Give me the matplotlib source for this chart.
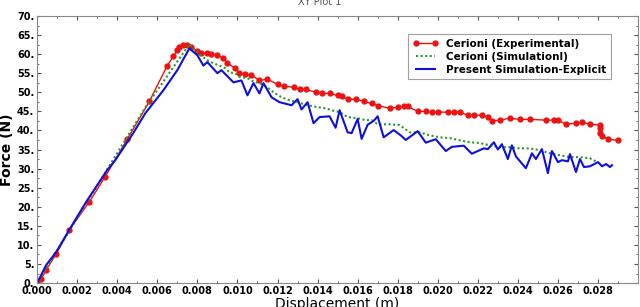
import numpy as np
import matplotlib.pyplot as plt
from matplotlib.ticker import MultipleLocator, FuncFormatter

# Cerioni (Experimental)
exp_x = [0.0, 0.0002, 0.00045, 0.00095, 0.0016, 0.0026, 0.0034, 0.0045, 0.0056,
         0.0065, 0.0068, 0.0070, 0.0071, 0.0073, 0.0075, 0.0077, 0.0080, 0.0082,
         0.0085, 0.0087, 0.0090, 0.0093, 0.0095, 0.0099, 0.0101, 0.0104, 0.0107,
         0.0111, 0.0115, 0.0120, 0.0123, 0.0128, 0.0131, 0.0134, 0.0139, 0.0142,
         0.0146, 0.0150, 0.0152, 0.0155, 0.0159, 0.0163, 0.0167, 0.0170, 0.0176,
         0.0180, 0.0183, 0.0185, 0.0190, 0.0194, 0.0197, 0.0200, 0.0205, 0.0208,
         0.0211, 0.0215, 0.0218, 0.0222, 0.0225, 0.0227, 0.0231, 0.0236, 0.0241,
         0.0246, 0.0254, 0.0258, 0.0260, 0.0264, 0.0269, 0.0272, 0.0276, 0.0281,
         0.0281, 0.0281, 0.0282, 0.0285, 0.0290]
exp_y = [0.0, 1.0, 3.4, 7.6, 13.9, 21.2, 27.9, 37.7, 47.6,
         57.0, 59.4, 61.0, 61.8, 62.3, 62.3, 61.8, 60.7, 60.2,
         60.2, 60.0, 59.7, 58.9, 57.6, 56.3, 55.0, 54.7, 54.5,
         53.1, 53.4, 52.1, 51.6, 51.3, 50.8, 50.8, 50.0, 49.7,
         49.7, 49.2, 49.0, 48.2, 48.2, 47.6, 47.1, 46.5, 45.8,
         46.1, 46.3, 46.3, 45.0, 45.0, 44.8, 44.8, 44.8, 44.8,
         44.8, 44.0, 44.0, 44.0, 43.5, 42.5, 42.7, 43.2, 42.9,
         42.9, 42.7, 42.7, 42.7, 41.6, 41.9, 42.2, 41.6, 41.4,
         40.6, 39.3, 38.5, 37.7, 37.4]

# Cerioni (Simulation)
sim_x = [0.0, 0.0054, 0.0076, 0.0078, 0.0080, 0.0083, 0.0085, 0.0088, 0.0091,
         0.0094, 0.0096, 0.0099, 0.0101, 0.0105, 0.0108, 0.0111, 0.0115, 0.0118,
         0.0122, 0.0126, 0.0130, 0.0135, 0.0140, 0.0144, 0.0147, 0.0151, 0.0155,
         0.0160, 0.0164, 0.0167, 0.0170, 0.0176, 0.0181, 0.0186, 0.0191, 0.0196,
         0.0201, 0.0206, 0.0211, 0.0216, 0.0221, 0.0226, 0.0231, 0.0236, 0.0241,
         0.0246, 0.0251, 0.0256, 0.0261, 0.0266, 0.0271, 0.0276, 0.0279]
sim_y = [0.0, 46.0, 62.6, 61.5, 60.5, 59.2, 58.4, 57.6, 57.0,
         56.3, 55.2, 55.0, 54.0, 53.7, 52.8, 52.4, 51.3, 50.0,
         48.7, 47.9, 47.4, 46.6, 46.1, 45.8, 45.3, 44.8, 43.5,
         43.2, 42.7, 42.7, 41.6, 41.6, 41.4, 39.5, 39.5, 38.7,
         38.2, 38.0, 37.4, 36.9, 36.7, 36.1, 35.6, 35.6, 35.3,
         35.3, 34.8, 34.0, 33.5, 33.0, 33.0, 32.7, 31.9]

# Present Simulation-Explicit
pres_x = [0.0, 0.00045, 0.00095, 0.0016, 0.00244, 0.0035, 0.0039, 0.0048, 0.0054,
          0.0063, 0.0070, 0.0076, 0.0080, 0.0083, 0.0085, 0.0090, 0.0092, 0.0098,
          0.0102, 0.0105, 0.0108, 0.0111, 0.0113, 0.0117, 0.0121, 0.0127, 0.0130,
          0.0132, 0.0135, 0.0138, 0.0141, 0.0146, 0.0149, 0.0151, 0.0155, 0.0157,
          0.0160, 0.0162, 0.0165, 0.0168, 0.0170, 0.0173, 0.0178, 0.0182, 0.0184,
          0.0190, 0.0194, 0.0199, 0.0204, 0.0207, 0.0213, 0.0217, 0.0223, 0.0225,
          0.0228, 0.0230, 0.0232, 0.0235, 0.0237, 0.0239, 0.0244, 0.0247, 0.0249,
          0.0252, 0.0255, 0.0257, 0.0260, 0.0262, 0.0265, 0.0266, 0.0269, 0.0271,
          0.0273, 0.0276, 0.0280, 0.0282, 0.0284, 0.0286, 0.0287]
pres_y = [0.0, 4.7, 8.1, 13.9, 21.2, 29.6, 32.2, 39.3, 44.5,
          50.5, 55.8, 61.5, 59.7, 57.0, 57.9, 55.0, 55.8, 52.6,
          53.1, 49.2, 52.4, 49.7, 52.4, 48.7, 47.4, 46.6, 48.2,
          45.5, 47.4, 41.9, 43.5, 43.7, 40.7, 45.3, 39.5, 39.3,
          43.0, 37.8, 41.5, 42.5, 43.7, 38.2, 40.1, 38.5, 37.5,
          39.8, 36.8, 37.7, 34.6, 35.7, 36.0, 33.9, 35.3, 35.1,
          36.9, 35.0, 36.4, 32.5, 36.1, 33.2, 30.1, 34.0, 32.5,
          35.1, 28.8, 34.6, 31.7, 32.2, 31.9, 33.8, 29.1, 32.5,
          30.4, 30.6, 31.7, 30.6, 31.2, 30.4, 30.9]

x_major = np.arange(0.0, 0.0285, 0.002)

fig = plt.figure(figsize=(6.4, 3.07), dpi=100)
ax = fig.add_axes([0.058, 0.078, 0.939, 0.870])

ax.plot(exp_x, exp_y, color='#ee1111', lw=1.0, marker='o', ms=3.5,
        label='Cerioni (Experimental)')
ax.plot(sim_x, sim_y, color='#2a9a2a', lw=1.5, ls=(0, (1, 1.2)),
        label='Cerioni (Simulationl)')
ax.plot(pres_x, pres_y, color='#1010dd', lw=1.5,
        label='Present Simulation-Explicit')

ax.set_xlim(0, 0.030)
ax.set_ylim(0, 70)
ax.set_xticks(x_major)
ax.xaxis.set_minor_locator(MultipleLocator(0.001))
ax.yaxis.set_major_locator(MultipleLocator(5))
ax.yaxis.set_minor_locator(MultipleLocator(2.5))
ax.xaxis.set_major_formatter(FuncFormatter(lambda v, p: f"{v:.3f}"))
ax.yaxis.set_major_formatter(FuncFormatter(lambda v, p: f"{int(round(v))}."))
ax.tick_params(which='both', direction='in', top=True, right=True,
               color='#555555', labelsize=7, pad=2)
ax.tick_params(which='major', length=3)
ax.tick_params(which='minor', length=1.5)
for lab in ax.get_xticklabels() + ax.get_yticklabels():
    lab.set_fontweight('bold')
for s in ax.spines.values():
    s.set_color('#888888')
    s.set_linewidth(0.8)

ax.set_xlabel('Displacement (m)', fontsize=10, labelpad=1)
ax.set_ylabel('Force (N)', fontsize=10, fontweight='bold', labelpad=2)
fig.text(0.5, 0.995, 'XY Plot 1', ha='center', va='center', fontsize=7,
         color='#555555')

leg = ax.legend(loc='upper right', bbox_to_anchor=(0.955, 0.933),
                borderaxespad=0, fancybox=False, numpoints=2,
                prop={'size': 7.5, 'weight': 'bold'}, handlelength=2.4,
                labelspacing=0.3, borderpad=0.45)
leg.get_frame().set_edgecolor('#888888')
leg.get_frame().set_linewidth(0.8)

fig.savefig('out.png', dpi=100)
